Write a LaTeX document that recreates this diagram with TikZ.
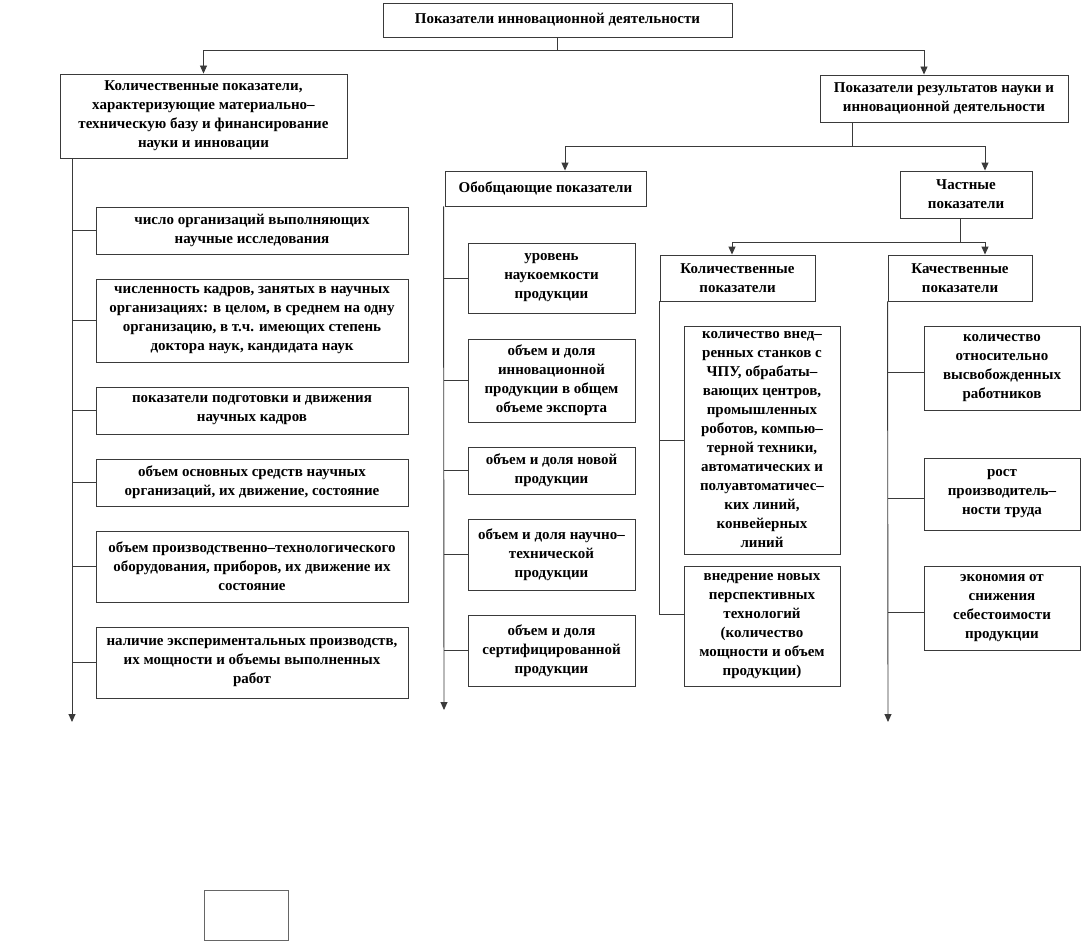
\documentclass[tikz,border=0pt]{standalone}
\usepackage{fontspec}
\setmainfont{Liberation Serif}
\usetikzlibrary{arrows.meta}
\definecolor{LineGray}{HTML}{3A3A3A}

\begin{document}
\begin{tikzpicture}[x=1pt,y=-1pt,
  box/.style={draw=LineGray,line width=.9pt,align=center,inner sep=2pt,
    font=\bfseries\fontsize{15}{19}\selectfont},
  con/.style={draw=LineGray,line width=.9pt},
  arr/.style={con,-{Triangle[length=8pt,width=7pt]}}]
  \useasboundingbox (0,0) rectangle (1092,942);
  % top level
  \node[box,minimum width=349,minimum height=34] (top) at (557.5,20) {Показатели инновационной деятельности};
  \node[box,minimum width=287,minimum height=84] (quant) at (203.5,116)
    {Количественные показатели,\\характеризующие материально–\\техническую базу и финансирование\\науки и инновации};
  \node[box,minimum width=248,minimum height=47] (res) at (944,98.5)
    {Показатели результатов науки и\\инновационной деятельности};
  \draw[arr] (top.south) -- ++(0,13) -| (quant.north);
  \draw[arr] (top.south) -- ++(0,13) -| ([xshift=-20]res.north);

  % results branch
  \node[box,minimum width=201,minimum height=35] (gen) at (545.5,188.5) {Обобщающие показатели};
  \node[box,minimum width=132,minimum height=47] (part) at (966,194.5) {Частные\\показатели};
  \draw[arr] ([xshift=-92]res.south) -- ++(0,24) -| ([xshift=19.5]gen.north);
  \draw[arr] ([xshift=-92]res.south) -- ++(0,24) -| ([xshift=19]part.north);
  \node[box,minimum width=155,minimum height=46] (kol) at (737.5,278) {Количественные\\показатели};
  \node[box,minimum width=144,minimum height=46] (kach) at (960,278) {Качественные\\показатели};
  \draw[arr] ([xshift=-6]part.south) -- ++(0,24) -| ([xshift=-5.5]kol.north);
  \draw[arr] ([xshift=-6]part.south) -- ++(0,24) -| ([xshift=25]kach.north);

  % left column
  \node[box,minimum width=312,minimum height=47] (b1) at (252,230.5) {число организаций выполняющих\\научные исследования};
  \node[box,minimum width=312,minimum height=83] (b2) at (252,320.5)
    {численность кадров, занятых в научных\\организациях: в целом, в среднем на одну\\организацию, в т.ч. имеющих степень\\доктора наук, кандидата наук};
  \node[box,minimum width=312,minimum height=47] (b3) at (252,410.5) {показатели подготовки и движения\\научных кадров};
  \node[box,minimum width=312,minimum height=47] (b4) at (252,482.5) {объем основных средств научных\\организаций, их движение, состояние};
  \node[box,minimum width=312,minimum height=71] (b5) at (252,566.5)
    {объем производственно–технологического\\оборудования, приборов, их движение их\\состояние};
  \node[box,minimum width=312,minimum height=71] (b6) at (252,662.5)
    {наличие экспериментальных производств,\\их мощности и объемы выполненных\\работ};
  \coordinate (lsp) at ([xshift=-131.5]quant.south);
  \coordinate (lend) at (72,722);
  \draw[arr] (lsp) -- (lend);
  \foreach \b in {b1,b2,b3,b4,b5,b6}
    \draw[con] (\b.west) -- (\b.west -| lsp);

  % generalised indicators
  \node[box,minimum width=167,minimum height=70] (m1) at (551.5,278) {уровень\\наукоемкости\\продукции};
  \node[box,minimum width=167,minimum height=83] (m2) at (551.5,380.5)
    {объем и доля\\инновационной\\продукции в общем\\объеме экспорта};
  \node[box,minimum width=167,minimum height=47] (m3) at (551.5,470.5) {объем и доля новой\\продукции};
  \node[box,minimum width=167,minimum height=71] (m4) at (551.5,554.5) {объем и доля научно–\\технической\\продукции};
  \node[box,minimum width=167,minimum height=71] (m5) at (551.5,650.5) {объем и доля\\сертифицированной\\продукции};
  \coordinate (mend) at (444,710);
  \draw[arr] ([xshift=-1]gen.south west) -- (mend);
  \foreach \m in {m1,m2,m3,m4,m5}
    \draw[con] (\m.west) -- (\m.west -| mend);

  % quantitative indicators
  \node[box,minimum width=156,minimum height=228] (k1) at (762,440)
    {количество внед–\\ренных станков с\\ЧПУ, обрабаты–\\вающих центров,\\промышленных\\роботов, компью–\\терной техники,\\автоматических и\\полуавтоматичес–\\ких линий,\\конвейерных\\линий};
  \node[box,minimum width=156,minimum height=120] (k2) at (762,626)
    {внедрение новых\\перспективных\\технологий\\(количество\\мощности и объем\\продукции)};
  \draw[con] (kol.south west) |- ([yshift=12]k2.west);
  \draw[con] (k1.west) -- (k1.west -| kol.south west);

  % qualitative indicators
  \node[box,minimum width=156,minimum height=84] (q1) at (1002,368)
    {количество\\относительно\\высвобожденных\\работников};
  \node[box,minimum width=156,minimum height=72] (q2) at (1002,494) {рост\\производитель–\\ности труда};
  \node[box,minimum width=156,minimum height=84] (q3) at (1002,608)
    {экономия от\\снижения\\себестоимости\\продукции};
  \coordinate (qend) at (888,722);
  \draw[arr] (kach.south west) -- (qend);
  \foreach \q in {q1,q2,q3}
    \draw[con] ([yshift=-4]\q.west) -- ([yshift=-4]\q.west -| qend);

  % empty frame at the bottom
  \node[draw=black!60,line width=.7pt,minimum width=84,minimum height=50] (blank) at (246,915) {};
\end{tikzpicture}
\end{document}
